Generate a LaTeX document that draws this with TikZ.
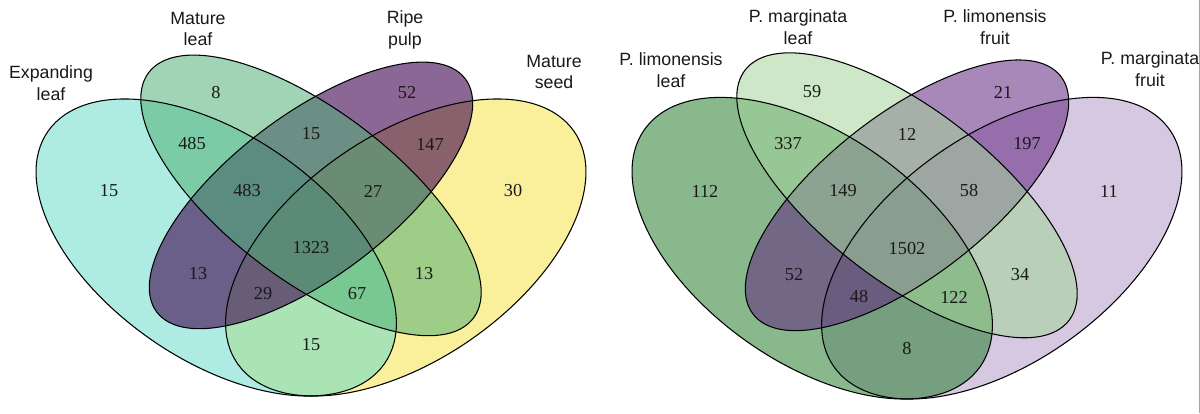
\documentclass[tikz,border=0pt]{standalone}
\usepackage{fontspec}
\setmainfont{Liberation Serif}
\newfontfamily\labfont{Liberation Sans}
\definecolor{lyellow}{RGB}{246,228,73}
\definecolor{lcyan}{RGB}{106,219,204}
\definecolor{lpurple}{RGB}{60,3,77}
\definecolor{lgreen}{RGB}{82,177,119}
\definecolor{rlilac}{RGB}{182,155,200}
\definecolor{rdgreen}{RGB}{39,126,46}
\definecolor{rpurple}{RGB}{97,37,128}
\definecolor{rlgreen}{RGB}{164,213,155}
\newcommand\vell[6]{%
  \begin{scope}[shift={(#1,#2)}, rotate=#3]
    \path[#6] (0,0) ellipse [x radius=#4, y radius=#5];
  \end{scope}}
\begin{document}
\begin{tikzpicture}[x=0.02cm,y=0.02cm,
  outline/.style={draw=black, line width=0.6pt},
  num/.style={font=\fontsize{10.4}{12}\selectfont, text=black!90, inner sep=0pt},
  setlabel/.style={font=\labfont\fontsize{10.1}{12.4}\selectfont, align=center, inner sep=0pt, text=black!90},
]
\useasboundingbox (0,0) rectangle (1200,413);
\fill[white] (0,0) rectangle (1200,413);

% ---------------- left diagram ----------------
\begin{scope}[shift={(311,165.5)}, xscale=632, yscale=521]
  \vell{0.15}{0}{45}{0.35}{0.2}{fill=lyellow, fill opacity=0.55}
  \vell{-0.15}{0}{135}{0.35}{0.2}{fill=lcyan, fill opacity=0.55}
  \vell{0}{0.10}{45}{0.3325}{0.1425}{fill=lpurple, fill opacity=0.6}
  \vell{0}{0.10}{135}{0.35}{0.15}{fill=lgreen, fill opacity=0.55}
  \vell{0.15}{0}{45}{0.35}{0.2}{outline}
  \vell{-0.15}{0}{135}{0.35}{0.2}{outline}
  \vell{0}{0.10}{45}{0.3325}{0.1425}{outline}
  \vell{0}{0.10}{135}{0.35}{0.15}{outline}
\end{scope}

\node[setlabel] (lExp) at (51,330) {Expanding\\leaf};
\node[setlabel] (lML) at (198,384) {Mature\\leaf};
\node[setlabel] (lRP) at (405,383) {Ripe\\pulp};
\node[setlabel] (lMS) at (554,341) {Mature\\seed};

\node[num] (nA1) at (109,222) {15};
\node[num] (nA2) at (216,320) {8};
\node[num] (nA3) at (192,269) {485};
\node[num] (nA4) at (311,279) {15};
\node[num] (nA5) at (407,320) {52};
\node[num] (nA6) at (430,269) {147};
\node[num] (nA7) at (247,222) {483};
\node[num] (nA8) at (373,222) {27};
\node[num] (nA9) at (513,222) {30};
\node[num] (nA10) at (311,165) {1323};
\node[num] (nA11) at (198,139) {13};
\node[num] (nA12) at (424,139) {13};
\node[num] (nA13) at (263,119) {29};
\node[num] (nA14) at (357,119) {67};
\node[num] (nA15) at (311,68) {15};

% ---------------- right diagram ----------------
\begin{scope}[shift={(907,164.8)}, xscale=632, yscale=529]
  \vell{0.15}{0}{45}{0.35}{0.2}{fill=rlilac, fill opacity=0.55}
  \vell{-0.15}{0}{135}{0.35}{0.2}{fill=rdgreen, fill opacity=0.55}
  \vell{0}{0.10}{45}{0.3325}{0.1425}{fill=rpurple, fill opacity=0.55}
  \vell{0}{0.10}{135}{0.35}{0.15}{fill=rlgreen, fill opacity=0.55}
  \vell{0.15}{0}{45}{0.35}{0.2}{outline}
  \vell{-0.15}{0}{135}{0.35}{0.2}{outline}
  \vell{0}{0.10}{45}{0.3325}{0.1425}{outline}
  \vell{0}{0.10}{135}{0.35}{0.15}{outline}
\end{scope}

\node[setlabel] (rPLL) at (671,342.5) {P. limonensis\\leaf};
\node[setlabel] (rPML) at (798,385.5) {P. marginata\\leaf};
\node[setlabel] (rPLF) at (995,386) {P. limonensis\\fruit};
\node[setlabel] (rPMF) at (1150,344) {P. marginata\\fruit};

\node[num] (nB1) at (705,222) {112};
\node[num] (nB2) at (812,321) {59};
\node[num] (nB3) at (788,269) {337};
\node[num] (nB4) at (907,279) {12};
\node[num] (nB5) at (1003,321) {21};
\node[num] (nB6) at (1027,269) {197};
\node[num] (nB7) at (843,222) {149};
\node[num] (nB8) at (969,222) {58};
\node[num] (nB9) at (1109,222) {11};
\node[num] (nB10) at (907,164) {1502};
\node[num] (nB11) at (794,138) {52};
\node[num] (nB12) at (1020,138) {34};
\node[num] (nB13) at (859,116) {48};
\node[num] (nB14) at (954,116) {122};
\node[num] (nB15) at (907,64) {8};

\draw[black!35, line width=0.5pt] (1199.5,0) -- (1199.5,413);
\end{tikzpicture}
\end{document}
